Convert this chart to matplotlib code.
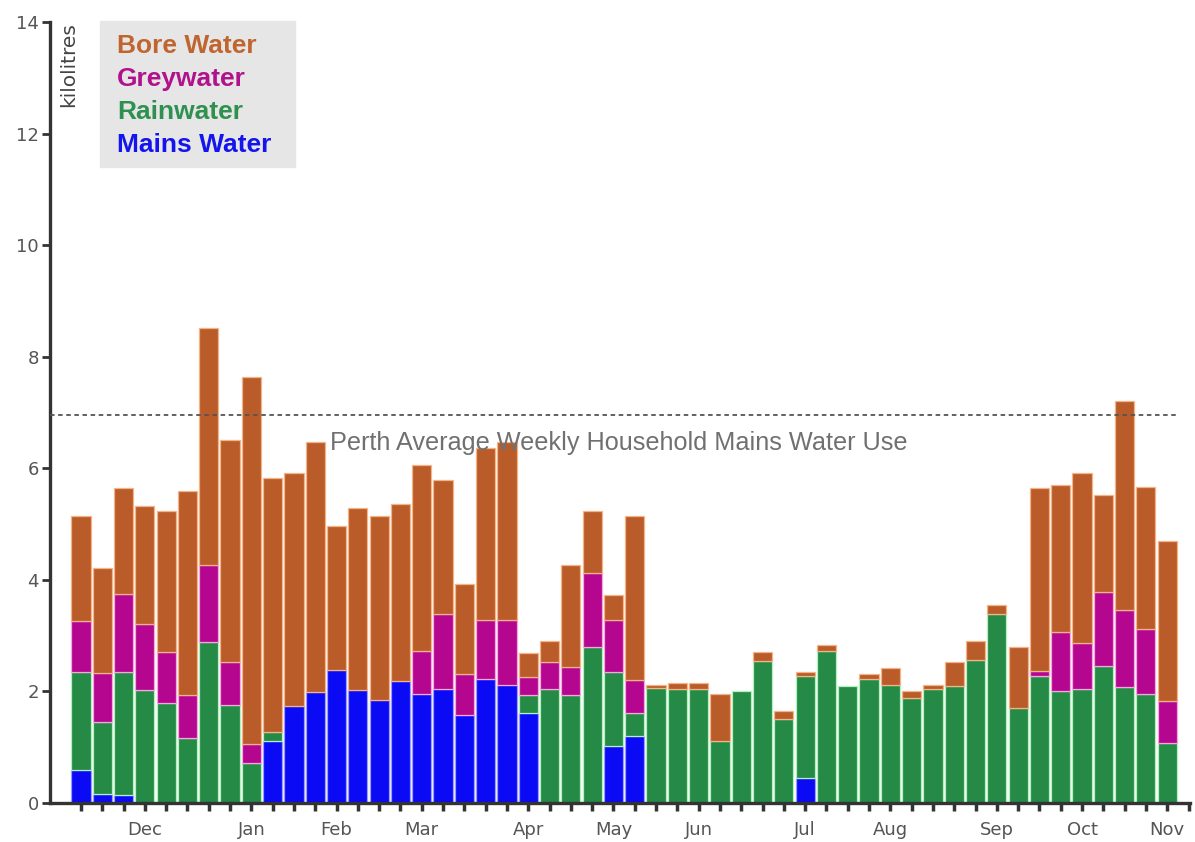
import matplotlib
matplotlib.use("Agg")
import matplotlib.pyplot as plt
import numpy as np

# weekly household water use (kL), stacked bottom -> top
mains = [0.60, 0.17, 0.14, 0, 0, 0, 0, 0, 0, 1.11, 1.74, 1.99, 2.38, 2.02, 1.85, 2.19,
         1.96, 2.04, 1.57, 2.23, 2.11, 1.61, 0, 0, 0, 1.02, 1.20, 0, 0, 0, 0, 0,
         0, 0, 0.45, 0, 0, 0, 0, 0, 0, 0, 0, 0, 0, 0, 0, 0, 0, 0, 0, 0]
rain = [1.75, 1.28, 2.21, 2.02, 1.80, 1.17, 2.88, 1.76, 0.71, 0.16, 0, 0, 0, 0, 0, 0,
        0, 0, 0, 0, 0, 0.33, 2.04, 1.94, 2.80, 1.33, 0.42, 2.06, 2.04, 2.04, 1.12, 2.00,
        2.54, 1.50, 1.83, 2.72, 2.10, 2.22, 2.12, 1.88, 2.04, 2.10, 2.57, 3.38, 1.70, 2.28,
        2.01, 2.04, 2.46, 2.08, 1.95, 1.08]
grey = [0.91, 0.88, 1.40, 1.19, 0.90, 0.77, 1.39, 0.76, 0.34, 0, 0, 0, 0, 0, 0, 0,
        0.76, 1.34, 0.74, 1.05, 1.17, 0.32, 0.49, 0.50, 1.32, 0.93, 0.58, 0, 0, 0, 0, 0,
        0, 0, 0, 0, 0, 0, 0, 0, 0, 0, 0, 0, 0, 0.09, 1.06, 0.82, 1.33, 1.38, 1.17, 0.75]
bore = [1.89, 1.88, 1.90, 2.12, 2.53, 3.65, 4.25, 3.99, 6.59, 4.55, 4.17, 4.48, 2.59, 3.26,
        3.30, 3.17, 3.33, 2.41, 1.61, 3.08, 3.20, 0.43, 0.38, 1.83, 1.11, 0.45, 2.95, 0.06,
        0.11, 0.11, 0.83, 0, 0.16, 0.15, 0.06, 0.12, 0, 0.10, 0.30, 0.12, 0.08, 0.42, 0.33,
        0.17, 1.10, 3.28, 2.63, 3.05, 1.74, 3.74, 2.55, 2.87]

month_pos = [3, 8, 12, 16, 21, 25, 29, 34, 38, 43, 47, 51]
month_labels = ["Dec", "Jan", "Feb", "Mar", "Apr", "May", "Jun", "Jul", "Aug", "Sep", "Oct", "Nov"]
perth_avg = 6.95

series = [("Mains Water", mains, "#0a0af5", "#9a9aff"),
          ("Rainwater", rain, "#248a45", "#b4f0c0"),
          ("Greywater", grey, "#b5068f", "#f4a8de"),
          ("Bore Water", bore, "#b95c2a", "#f5b488")]
legend_colors = {"Bore Water": "#c0652f", "Greywater": "#b0128c",
                 "Rainwater": "#2f9150", "Mains Water": "#1414ee"}

fig = plt.figure(figsize=(11.95, 8.42), dpi=100)
ax = fig.add_axes([50 / 1195, 1 - 803 / 842, 1140 / 1195, 781 / 842])

x = np.arange(len(bore))
bottom = np.zeros(len(bore))
for name, vals, col, edge in series:
    vals = np.array(vals)
    mask = vals > 0
    ax.bar(x[mask], vals[mask], bottom=bottom[mask], width=0.9, color=col,
           edgecolor=edge, linewidth=0.9, zorder=2)
    bottom += vals

ax.axhline(perth_avg, xmin=0, xmax=(51.5 + 1.455) / 53.525, color="#555555",
           linestyle=(0, (2.5, 2)), linewidth=1.3, zorder=3)
ax.text(11.7, 6.33, "Perth Average Weekly Household Mains Water Use",
        family="Liberation Sans", fontsize=18.2, color="#707070", zorder=4)

ax.set_xlim(-1.455, 52.07)
ax.set_ylim(0, 14)

for s in ["top", "right"]:
    ax.spines[s].set_visible(False)
for s in ["left", "bottom"]:
    ax.spines[s].set_color("#333333")
    ax.spines[s].set_linewidth(2.4)

ax.set_yticks(range(0, 15, 2))
ax.tick_params(axis="y", length=6, width=2, color="#333333", labelsize=13,
               labelcolor="#555555", pad=2)
ax.set_xticks(range(0, 53), minor=True)
ax.set_xticks(month_pos)
ax.set_xticklabels(month_labels)
ax.tick_params(axis="x", which="minor", length=6, width=2.5, color="#333333")
ax.tick_params(axis="x", which="major", length=6, width=2.5, color="#333333",
               labelsize=13, labelcolor="#555555", pad=7)

ax.text(-0.58, 14, "kilolitres", rotation=90, ha="center", va="top",
        fontsize=14.5, color="#444444")

# legend box
fig.patches.append(plt.Rectangle((100 / 1195, 1 - 167 / 842), 195 / 1195, 146 / 842,
                                 transform=fig.transFigure, color="#e6e6e6", zorder=0))
for i, name in enumerate(["Bore Water", "Greywater", "Rainwater", "Mains Water"]):
    fig.text(117 / 1195, 1 - (53 + 33 * i) / 842, name, family="Liberation Sans",
             fontweight="bold", fontsize=19, color=legend_colors[name])

fig.savefig("out.png", dpi=100)
